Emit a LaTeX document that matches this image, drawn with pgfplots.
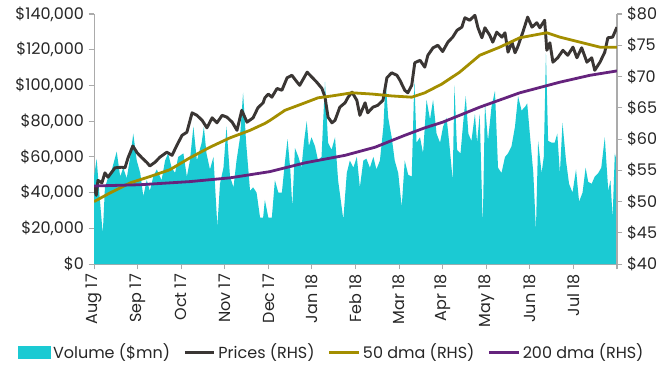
\documentclass[border=0pt]{standalone}
\usepackage{fontspec}
\setmainfont{Poppins}
\usepackage{pgfplots}
\pgfplotsset{compat=1.18}
\usepackage{pgfplotstable}

\definecolor{volcol}{HTML}{1BCAD3}
\definecolor{pricecol}{HTML}{3A3634}
\definecolor{dmafifty}{HTML}{A38E00}
\definecolor{dmatwo}{HTML}{65237D}
\definecolor{axcol}{HTML}{ABABAB}
\definecolor{txtcol}{HTML}{262626}

% x = months since 1 Aug 2017
\pgfplotstableread{
m v
0.00 49
0.06 59
0.12 40
0.20 17
0.25 43
0.33 49
0.41 53
0.52 63
0.60 49
0.67 54
0.75 48
0.83 60
0.90 73
0.98 58
1.06 51
1.13 38
1.21 47
1.28 41
1.36 49
1.44 53
1.55 47
1.63 58
1.70 62
1.78 54
1.86 51
1.93 60
2.05 62
2.13 49
2.20 58
2.28 77
2.36 58
2.47 68
2.52 77
2.58 62
2.66 53
2.74 60
2.83 21
2.89 45
2.97 54
3.04 77
3.12 49
3.20 43
3.27 58
3.35 71
3.42 96
3.49 68
3.58 41
3.65 43
3.73 40
3.81 26
3.88 26
3.92 36
4.00 26
4.08 26
4.15 47
4.23 40
4.31 40
4.38 57
4.44 70
4.50 54
4.55 32
4.61 65
4.69 60
4.76 54
4.82 69
4.88 80
4.93 66
4.99 71
5.07 66
5.14 58
5.22 60
5.30 102
5.37 68
5.45 64
5.53 71
5.60 47
5.72 25
5.80 51
5.87 58
5.95 54
6.03 60
6.10 43
6.18 58
6.25 59
6.33 54
6.41 60
6.48 53
6.56 58
6.64 77
6.69 103
6.75 82
6.83 71
6.90 58
6.98 51
7.06 32
7.13 58
7.21 50
7.29 49
7.35 103
7.40 68
7.48 71
7.55 62
7.63 92
7.71 81
7.78 92
7.86 73
7.94 68
8.01 77
8.09 82
8.15 68
8.23 47
8.27 100
8.33 64
8.41 62
8.47 79
8.53 94
8.59 73
8.66 69
8.74 84
8.79 68
8.85 84
8.92 21
8.97 90
9.04 69
9.12 88
9.20 97
9.27 54
9.35 51
9.43 60
9.50 62
9.58 66
9.66 77
9.73 94
9.81 86
9.89 88
9.94 90
10.00 73
10.08 51
10.14 19
10.19 69
10.27 51
10.32 60
10.37 118
10.42 69
10.50 68
10.57 68
10.63 73
10.69 51
10.75 79
10.83 58
10.90 45
10.98 40
11.06 53
11.13 35
11.21 40
11.28 54
11.34 46
11.42 45
11.49 49
11.57 51
11.64 54
11.72 71
11.80 41
11.85 47
11.90 26
11.95 62
12.00 57
}\volume

\pgfplotstableread{
m p
0.00 52.5
0.05 51.0
0.09 53.4
0.18 53.0
0.25 54.6
0.32 53.9
0.48 55.4
0.64 55.5
0.71 55.4
0.78 57.0
0.89 58.9
0.99 57.8
1.10 57.0
1.22 56.2
1.28 55.7
1.40 56.3
1.51 57.1
1.67 57.9
1.79 57.4
1.90 59.0
2.02 60.6
2.13 61.1
2.25 64.2
2.36 63.8
2.48 63.0
2.59 61.8
2.71 63.4
2.82 62.6
2.94 63.8
3.05 63.5
3.17 62.7
3.28 61.4
3.39 64.6
3.51 62.7
3.65 63.4
3.76 65.0
3.88 65.8
3.92 66.6
4.00 67.2
4.08 66.7
4.20 68.1
4.31 67.8
4.43 69.8
4.54 70.2
4.66 69.1
4.72 68.6
4.89 70.7
5.00 69.9
5.11 69.1
5.23 68.1
5.30 66.7
5.37 63.5
5.46 62.6
5.53 63.0
5.64 65.1
5.76 65.8
5.83 66.7
5.92 67.5
6.03 66.2
6.10 63.8
6.22 65.8
6.28 64.2
6.40 65.1
6.51 65.4
6.63 66.2
6.72 69.8
6.83 70.6
6.95 70.2
7.02 69.4
7.13 67.8
7.20 67.4
7.29 68.6
7.36 72.2
7.48 72.6
7.59 71.5
7.66 73.4
7.78 74.6
7.89 75.0
8.00 74.0
8.12 75.5
8.23 76.3
8.33 77.4
8.44 77.9
8.51 79.4
8.62 79.0
8.74 79.8
8.81 77.8
8.90 76.2
8.97 77.8
9.08 76.6
9.15 75.5
9.24 77.1
9.36 76.3
9.43 77.0
9.50 73.9
9.59 75.5
9.66 73.8
9.72 74.7
9.84 77.1
9.95 79.5
10.05 77.9
10.16 78.6
10.23 77.8
10.34 79.0
10.39 74.2
10.46 75.4
10.53 72.3
10.64 73.0
10.76 74.2
10.87 73.4
10.99 74.7
11.08 73.0
11.19 74.6
11.31 72.3
11.42 73.0
11.49 71.0
11.61 72.3
11.72 73.9
11.79 76.2
11.90 76.3
12.00 77.9
}\prices

\pgfplotstableread{
m p
0.00 50.0
0.37 51.4
0.83 53.0
1.28 54.0
1.74 55.1
2.20 57.0
2.66 58.7
3.12 60.2
3.58 61.4
3.92 62.5
4.04 63.0
4.38 64.6
4.84 65.8
5.14 66.6
5.46 66.9
5.92 67.4
6.38 67.2
6.83 66.9
7.29 66.7
7.59 67.4
7.98 68.8
8.39 70.7
8.85 73.4
9.31 74.7
9.77 76.2
10.23 76.8
10.39 77.0
10.69 76.3
11.15 75.5
11.61 74.7
12.00 74.7
}\dmafifty

\pgfplotstableread{
m p
0.00 52.5
1.06 52.7
2.20 53.2
3.12 53.8
4.04 54.8
4.84 56.2
5.76 57.4
6.45 58.7
7.13 60.6
7.59 61.8
8.00 62.7
8.85 65.1
9.77 67.4
10.69 69.1
11.38 70.2
12.00 70.9
}\dmatwo

\pgfplotsset{
  base/.style={
    scale only axis, width=392pt, height=187.5pt,
    xmin=0, xmax=12,
    axis line style={axcol, line width=0.8pt},
    tick style={axcol, line width=0.8pt},
    tick align=outside, major tick length=4pt,
    every tick label/.append style={font=\fontsize{12}{14}\selectfont, text=txtcol},
    /pgf/number format/assume math mode=true,
  },
}

\begin{document}
\begin{tikzpicture}
  \begin{axis}[base, name=ax,
    axis x line*=bottom, axis y line*=left,
    ymin=0, ymax=140, ytick={0,20,...,140},
    yticklabels={\$0,\$20{,}000,\$40{,}000,\$60{,}000,\$80{,}000,\$100{,}000,\$120{,}000,\$140{,}000},
    xtick={0,...,12},
    xticklabels={Aug 17,Sep 17,Oct 17,Nov 17,Dec 17,Jan 18,Feb 18,Mar 18,Apr 18,May 18,Jun 18,Jul 18,{}},
    xticklabel style={rotate=90, anchor=east},
    ]
    \addplot[fill=volcol, draw=none] table[x=m, y=v] {\volume} \closedcycle;
  \end{axis}
  \begin{axis}[base,
    axis x line=none, axis y line*=right,
    ymin=40, ymax=80, ytick={40,45,...,80},
    yticklabel={\$\pgfmathprintnumber{\tick}},
    legend style={at={(0.455,-0.352)}, anchor=center, draw=none, fill=none,
      legend columns=4, font=\fontsize{12}{14}\selectfont, text=txtcol,
      /tikz/every even column/.append style={column sep=8pt},
      /tikz/every odd column/.append style={column sep=0pt}},
    legend image code/.code={\draw[#1, line width=2.2pt] (0pt,0pt) -- (22pt,0pt);},
    ]
    \addlegendimage{legend image code/.code={\fill[volcol] (0pt,-4.5pt) rectangle (24pt,4.5pt);}}
    \addlegendentry{Volume (\$mn)}
    \addplot[pricecol, line width=2.2pt, line join=round] table[x=m, y=p] {\prices};
    \addlegendentry{Prices (RHS)}
    \addplot[dmafifty, line width=2.1pt, line join=round] table[x=m, y=p] {\dmafifty};
    \addlegendentry{50 dma (RHS)}
    \addplot[dmatwo, line width=2.1pt, line join=round] table[x=m, y=p] {\dmatwo};
    \addlegendentry{200 dma (RHS)}
  \end{axis}
  \pgfresetboundingbox
  \path[use as bounding box] ([xshift=-70.5pt,yshift=-75.75pt]ax.south west) rectangle ([xshift=30pt,yshift=10.5pt]ax.north east);
\end{tikzpicture}
\end{document}
